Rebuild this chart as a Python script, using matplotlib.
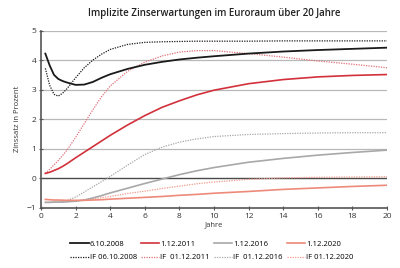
import numpy as np
import matplotlib
matplotlib.use('Agg')
from matplotlib import pyplot as plt

plt.rcParams['font.family'] = ['Open Sans', 'DejaVu Sans']

# years (x) and implied rates in percent
years = [0.25, 0.5, 0.75, 1, 1.25, 1.5, 2, 2.5, 3, 3.5, 4, 5, 6, 7, 8, 9, 10, 12, 14, 16, 18, 20]

spot_2008 = [4.22, 3.82, 3.5, 3.36, 3.29, 3.24, 3.16, 3.17, 3.26, 3.4, 3.52, 3.7, 3.84, 3.94,
             4.02, 4.08, 4.13, 4.22, 4.29, 4.34, 4.38, 4.42]
fwd_2008 = [3.72, 3.15, 2.84, 2.78, 2.88, 3.03, 3.4, 3.74, 4.0, 4.2, 4.36, 4.53, 4.6, 4.62,
            4.63, 4.64, 4.64, 4.64, 4.65, 4.65, 4.65, 4.65]
spot_2011 = [0.16, 0.2, 0.26, 0.32, 0.4, 0.49, 0.69, 0.88, 1.07, 1.26, 1.45, 1.8, 2.12, 2.4,
             2.62, 2.82, 2.98, 3.2, 3.34, 3.43, 3.48, 3.51]
fwd_2011 = [0.16, 0.3, 0.45, 0.6, 0.77, 0.95, 1.38, 1.85, 2.32, 2.76, 3.12, 3.62, 3.93, 4.14,
            4.27, 4.32, 4.32, 4.22, 4.1, 3.97, 3.86, 3.74]
spot_2016 = [-0.82, -0.82, -0.81, -0.81, -0.81, -0.8, -0.78, -0.74, -0.67, -0.59, -0.5, -0.34,
             -0.18, -0.03, 0.12, 0.25, 0.36, 0.54, 0.67, 0.78, 0.87, 0.95]
fwd_2016 = [-0.82, -0.82, -0.81, -0.81, -0.79, -0.76, -0.64, -0.47, -0.29, -0.12, 0.06, 0.44,
            0.8, 1.05, 1.22, 1.33, 1.41, 1.48, 1.51, 1.53, 1.54, 1.54]
spot_2020 = [-0.72, -0.73, -0.74, -0.74, -0.745, -0.75, -0.75, -0.75, -0.74, -0.73, -0.71, -0.68,
             -0.65, -0.62, -0.58, -0.55, -0.51, -0.45, -0.38, -0.33, -0.28, -0.24]
fwd_2020 = [-0.82, -0.82, -0.82, -0.81, -0.8, -0.79, -0.77, -0.74, -0.7, -0.66, -0.62, -0.52,
            -0.44, -0.35, -0.27, -0.19, -0.13, -0.04, 0.01, 0.03, 0.04, 0.05]

labels_spot = ['6.10.2008', '1.12.2011', '1.12.2016', '1.12.2020']
labels_fwd = ['IF 06.10.2008', 'IF  01.12.2011', 'IF  01.12.2016', 'IF 01.12.2020']

fig = plt.figure(figsize=(4, 2.68), dpi=100)
ax = fig.add_axes([0.1025, 0.225, 0.865, 0.661])

for v in range(1, 6):
    ax.axhline(v, color='#b8b8b8', lw=0.9, zorder=1)
ax.axhline(0, color='#4a4a4a', lw=1.0, zorder=1)

dot = (0, (1, 1))
cols = ['#1a1a1a', '#d2313b', '#a8a8a8', '#ee8a7a']
fcols = ['#1a1a1a', '#e0707a', '#a8a8a8', '#f09a8c']
spots = [spot_2008, spot_2011, spot_2016, spot_2020]
fwds = [fwd_2008, fwd_2011, fwd_2016, fwd_2020]
lws = [1.3, 1.2, 1.2, 1.2]

handles = []
labels = []
for s, f, c, fc, ls_, lf_, lw in zip(spots, fwds, cols, fcols, labels_spot, labels_fwd, lws):
    h1, = ax.plot(years, s, color=c, lw=lw, zorder=3)
    h2, = ax.plot(years, f, color=fc, lw=0.9, ls=dot, zorder=2)
    handles += [h1, h2]
    labels += [ls_, lf_]

ax.set_xlim(0, 20)
ax.set_ylim(-1, 5)
ax.set_xticks(range(0, 21, 2))
ax.set_yticks(range(-1, 6))
for sp in ['top', 'right']:
    ax.spines[sp].set_visible(False)
for sp in ['left', 'bottom']:
    ax.spines[sp].set_color('#555555')
    ax.spines[sp].set_linewidth(1.2)
ax.tick_params(direction='inout', length=3, width=0.8, color='#555555',
               labelsize=6, labelcolor='#333333', pad=2)

ax.set_xlabel('Jahre', fontsize=5.5, color='#333333', labelpad=1)
ax.set_ylabel('Zinssatz in Prozent', fontsize=5.5, color='#333333', labelpad=4)

fig.suptitle('Implizite Zinserwartungen im Euroraum über 20 Jahre', x=0.535, y=0.97,
             fontsize=7, fontweight='semibold', color='#222222')

fig.legend(handles, labels, ncol=4, loc='center', bbox_to_anchor=(0.53, 0.064),
           frameon=False, fontsize=5.5, handlelength=2.4, handletextpad=0.15,
           columnspacing=0.5, labelspacing=0.85)

fig.savefig('out.png', dpi=100)
